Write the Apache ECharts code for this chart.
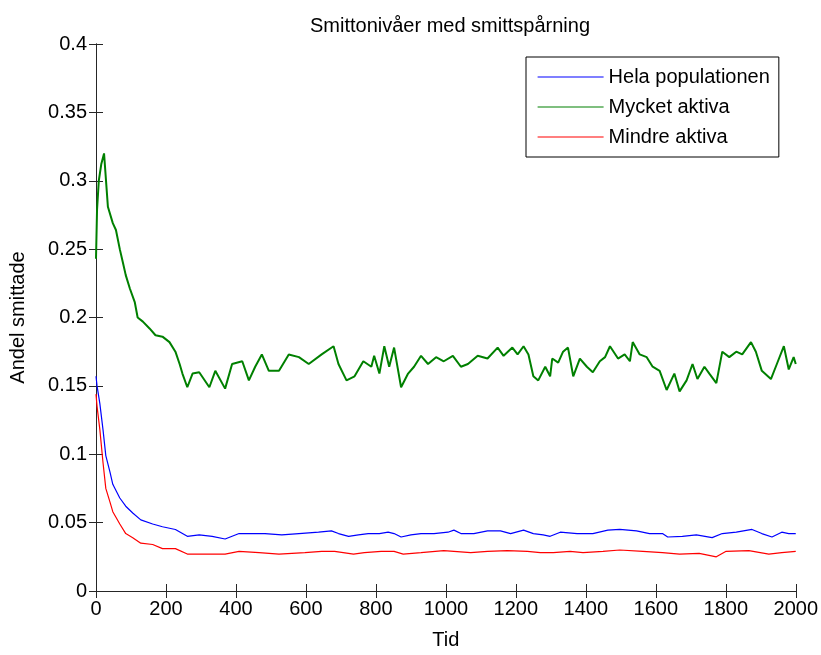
<!DOCTYPE html>
<html>
<head>
<meta charset="utf-8">
<script src="https://cdn.jsdelivr.net/npm/echarts@6/dist/echarts.min.js"></script>
<style>
html,body{margin:0;padding:0;background:#fff;}
#chart{width:821px;height:655px;}
</style>
</head>
<body>
<div id="chart"></div>
<script>
const titleText = 'Smittonivåer med smittspårning';
const xName = 'Tid';
const yName = 'Andel smittade';
const seriesNames = ['Hela populationen', 'Mycket aktiva', 'Mindre aktiva'];

const tGreen = [0, 3, 8, 15, 23, 34, 48, 57, 68, 77,
  85, 97, 111, 119, 134, 153, 170, 190, 210, 227,
  239, 247, 261, 276, 295, 324, 341, 369, 389, 418,
  437, 455, 474, 494, 523, 551, 580, 608, 645, 679,
  693, 716, 739, 764, 787, 795, 810, 824, 838, 852,
  872, 892, 909, 929, 949, 972, 994, 1020, 1043, 1063,
  1091, 1119, 1148, 1165, 1190, 1205, 1222, 1236, 1250, 1264,
  1284, 1298, 1304, 1321, 1335, 1349, 1364, 1383, 1403, 1420,
  1440, 1455, 1469, 1492, 1511, 1526, 1534, 1554, 1574, 1591,
  1611, 1631, 1653, 1668, 1688, 1705, 1719, 1739, 1753, 1773,
  1790, 1810, 1830, 1847, 1872, 1886, 1903, 1929, 1946, 1966,
  1980, 1994, 2000];
const vGreen = [0.243, 0.279, 0.300, 0.312, 0.320, 0.281, 0.269, 0.264, 0.250, 0.240,
  0.231, 0.221, 0.211, 0.200, 0.197, 0.192, 0.187, 0.186, 0.182, 0.175,
  0.166, 0.159, 0.149, 0.159, 0.160, 0.149, 0.161, 0.148, 0.166, 0.168,
  0.154, 0.164, 0.173, 0.161, 0.161, 0.173, 0.171, 0.166, 0.173, 0.179,
  0.166, 0.154, 0.157, 0.168, 0.164, 0.172, 0.159, 0.179, 0.164, 0.178,
  0.149, 0.159, 0.164, 0.172, 0.166, 0.171, 0.168, 0.172, 0.164, 0.166,
  0.172, 0.170, 0.178, 0.172, 0.178, 0.173, 0.179, 0.173, 0.157, 0.154,
  0.164, 0.157, 0.170, 0.167, 0.175, 0.178, 0.157, 0.170, 0.164, 0.160,
  0.168, 0.171, 0.179, 0.170, 0.173, 0.168, 0.182, 0.173, 0.171, 0.164,
  0.161, 0.147, 0.159, 0.146, 0.154, 0.166, 0.155, 0.164, 0.159, 0.152,
  0.175, 0.171, 0.175, 0.173, 0.182, 0.175, 0.161, 0.155, 0.166, 0.179,
  0.162, 0.171, 0.166];

const tBlue = [0, 3, 11, 20, 28, 40, 48, 68, 85, 105,
  128, 162, 190, 227, 261, 295, 332, 369, 409, 437,
  483, 531, 580, 636, 673, 693, 722, 750, 778, 810,
  835, 852, 872, 900, 929, 966, 1006, 1023, 1043, 1080,
  1119, 1156, 1185, 1222, 1250, 1278, 1298, 1327, 1375, 1420,
  1463, 1497, 1545, 1582, 1619, 1634, 1676, 1716, 1761, 1790,
  1830, 1875, 1903, 1932, 1960, 1980, 2000];
const vBlue = [0.157, 0.150, 0.137, 0.118, 0.099, 0.087, 0.078, 0.068, 0.062, 0.057,
  0.052, 0.049, 0.047, 0.045, 0.040, 0.041, 0.040, 0.038, 0.042, 0.042,
  0.042, 0.041, 0.042, 0.043, 0.044, 0.042, 0.040, 0.041, 0.042, 0.042,
  0.043, 0.042, 0.0395, 0.041, 0.042, 0.042, 0.043, 0.0445, 0.042, 0.042,
  0.044, 0.044, 0.042, 0.0445, 0.042, 0.041, 0.040, 0.043, 0.042, 0.042,
  0.0445, 0.045, 0.044, 0.042, 0.042, 0.0395, 0.040, 0.041, 0.039, 0.042,
  0.043, 0.045, 0.042, 0.0395, 0.043, 0.042, 0.042];

const tRed = [0, 3, 11, 20, 28, 40, 48, 68, 85, 105,
  128, 162, 190, 227, 261, 313, 369, 409, 466, 523,
  597, 645, 682, 736, 767, 815, 852, 878, 929, 994,
  1071, 1119, 1176, 1233, 1270, 1307, 1355, 1392, 1449, 1497,
  1563, 1619, 1668, 1724, 1773, 1801, 1866, 1923, 1960, 2000];
const vRed = [0.144, 0.135, 0.118, 0.094, 0.075, 0.065, 0.058, 0.049, 0.042, 0.039,
  0.035, 0.034, 0.031, 0.031, 0.027, 0.027, 0.027, 0.029, 0.028, 0.027,
  0.028, 0.029, 0.029, 0.027, 0.028, 0.029, 0.029, 0.027, 0.028, 0.0295,
  0.028, 0.029, 0.0295, 0.029, 0.028, 0.028, 0.029, 0.028, 0.029, 0.030,
  0.029, 0.028, 0.027, 0.0275, 0.025, 0.029, 0.0295, 0.027, 0.028, 0.029];

const zip = (t, v) => t.map((x, i) => [x, v[i]]);
const FONT = '"Liberation Sans", Arial, sans-serif';
const axisCol = '#262626';

const chart = echarts.init(document.getElementById('chart'), null, {renderer: 'canvas'});
const baseX = {
  type: 'value', min: 0, max: 2000, interval: 200,
  axisLine: {show: true, lineStyle: {color: axisCol, width: 1}},
  axisTick: {show: true, inside: true, length: 7, lineStyle: {color: axisCol}},
  splitLine: {show: false}
};
const baseY = {
  type: 'value', min: 0, max: 0.4, interval: 0.05,
  axisLine: {show: true, lineStyle: {color: axisCol, width: 1}},
  axisTick: {show: true, inside: true, length: 7, lineStyle: {color: axisCol}},
  splitLine: {show: false}
};
chart.setOption({
  animation: false,
  backgroundColor: '#fff',
  title: {
    text: titleText, left: 445, top: 11, textAlign: 'center',
    textStyle: {fontFamily: FONT, fontSize: 20, fontWeight: 'normal', color: '#000'}
  },
  grid: {left: 93, right: 24, top: 44, bottom: 54, containLabel: false},
  legend: {
    left: 526, top: 57, orient: 'vertical',
    padding: [10, 9, 10, 11], itemGap: 10, itemWidth: 66, itemHeight: 20,
    borderColor: '#000', borderWidth: 1, backgroundColor: '#fff',
    itemStyle: {opacity: 0},
    lineStyle: {width: 1.2},
    textStyle: {fontFamily: FONT, fontSize: 20, color: '#000'},
    data: seriesNames
  },
  xAxis: [
    Object.assign({}, baseX, {
      position: 'bottom', name: xName, nameLocation: 'middle', nameGap: 39,
      nameTextStyle: {fontFamily: FONT, fontSize: 20, color: '#000'},
      axisLabel: {fontFamily: FONT, fontSize: 20, color: '#000', margin: 8,
        formatter: v => String(v)}
    }),
    Object.assign({}, baseX, {position: 'top', axisLabel: {show: false}})
  ],
  yAxis: [
    Object.assign({}, baseY, {
      position: 'left', name: yName, nameLocation: 'middle', nameGap: 68,
      nameTextStyle: {fontFamily: FONT, fontSize: 20, color: '#000'},
      axisLabel: {fontFamily: FONT, fontSize: 20, color: '#000', margin: 9}
    }),
    Object.assign({}, baseY, {position: 'right', axisLabel: {show: false}})
  ],
  series: [
    {name: seriesNames[0], type: 'line', data: zip(tBlue, vBlue), symbol: 'none',
     lineStyle: {color: '#0000ff', width: 1.2}, itemStyle: {color: '#0000ff'}, z: 3},
    {name: seriesNames[1], type: 'line', data: zip(tGreen, vGreen), symbol: 'none',
     lineStyle: {color: '#008000', width: 2}, itemStyle: {color: '#008000'}, z: 2},
    {name: seriesNames[2], type: 'line', data: zip(tRed, vRed), symbol: 'none',
     lineStyle: {color: '#ff0000', width: 1.2}, itemStyle: {color: '#ff0000'}, z: 2}
  ]
});
</script>
</body>
</html>
